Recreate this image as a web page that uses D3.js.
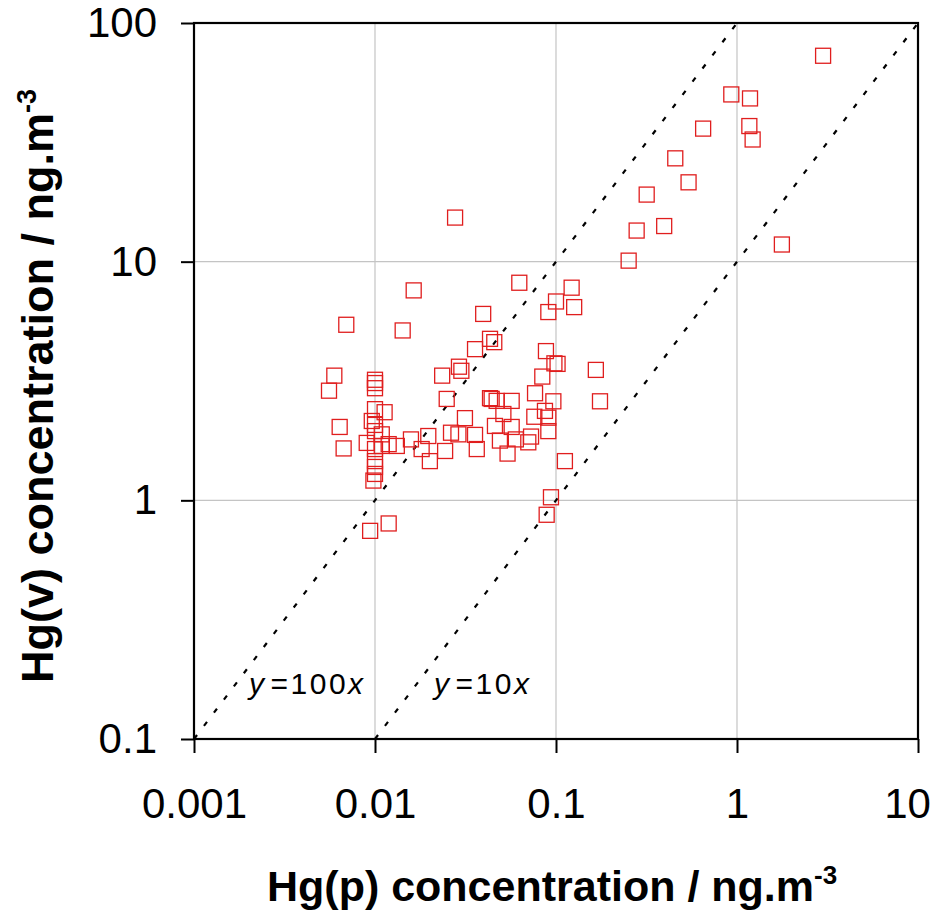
<!DOCTYPE html>
<html>
<head>
<meta charset="utf-8">
<script src="https://cdn.jsdelivr.net/npm/d3@7"></script>
<style>
  body { margin: 0; background: #fff; }
  text { font-family: "Liberation Sans", Arial, sans-serif; fill: #000; }
</style>
</head>
<body>
<div id="chart"></div>
<script>
var width = 945;
var height = 912;

// Hg(p) concentration (x) and Hg(v) concentration (y), ng.m-3
var hgP = [
  2.99, 0.93, 1.18, 1.17, 1.22, 0.65, 0.456, 0.54, 0.317, 0.279, 0.396, 0.252, 1.77, 0.0627, 0.0277,
  0.122, 0.100, 0.126, 0.0907, 0.088, 0.098, 0.102, 0.084, 0.166, 0.0766, 0.0967, 0.175, 0.0869, 0.0907,
  0.0759, 0.0728, 0.0907, 0.112, 0.0938, 0.0888,
  0.0396, 0.0432, 0.0456, 0.0357, 0.0291, 0.0300, 0.0235, 0.0249, 0.0432, 0.0441, 0.047, 0.0569,
  0.0314, 0.0512, 0.0197, 0.0263, 0.0289, 0.0357, 0.046, 0.049, 0.0569, 0.06, 0.0703, 0.0365, 0.054,
  0.0244, 0.0201, 0.0181, 0.0158, 0.0132, 0.0119, 0.0109, 0.0113,
  0.0100, 0.0100, 0.0100, 0.0100, 0.0096, 0.0100, 0.0100, 0.0090, 0.0100, 0.0100, 0.0100, 0.0100,
  0.0098, 0.0109, 0.0094, 0.0119,
  0.01636, 0.01422, 0.00694, 0.00596, 0.00557, 0.00638, 0.00671
];
var hgV = [
  72.9, 50.2, 48.3, 37.0, 32.5, 36.1, 27.1, 21.5, 19.1, 13.5, 14.1, 10.1, 11.8, 8.16, 15.3,
  7.78, 6.81, 6.45, 6.15, 4.22, 3.75, 3.73, 3.30, 3.52, 2.81, 2.60, 2.60, 2.37, 2.22,
  2.24, 1.85, 1.95, 1.46, 1.03, 0.87,
  6.04, 4.75, 4.60, 4.30, 3.63, 3.49, 3.33, 2.66, 2.68, 2.66, 2.61, 2.61,
  2.21, 2.30, 1.86, 1.92, 1.89, 1.88, 2.05, 1.78, 2.03, 1.80, 1.75, 1.64, 1.57,
  1.61, 1.46, 1.64, 1.80, 1.69, 1.72, 1.89, 2.34,
  3.20, 3.10, 2.95, 2.41, 2.15, 2.07, 1.95, 1.74, 1.64, 1.46, 1.38, 1.29,
  1.21, 1.69, 0.745, 0.80,
  7.58, 5.15, 5.44, 3.33, 2.88, 2.03, 1.65
];

var xTicks = [0.001, 0.01, 0.1, 1, 10];
var xTickLabels = ["0.001", "0.01", "0.1", "1", "10"];
var yTicks = [0.1, 1, 10, 100];
var yTickLabels = ["0.1", "1", "10", "100"];

// reference lines y = k * x
var lineFactors = [100, 10];
var lineLabels = ["100", "10"];

// plot box (note: "top" is taken by window.top)
var plotLeft = 194, plotRight = 918, plotTop = 23, plotBottom = 739;

var x = d3.scaleLog().domain([0.001, 10]).range([plotLeft, plotRight]);
var y = d3.scaleLog().domain([0.1, 100]).range([plotBottom, plotTop]);

var svg = d3.select("#chart")
  .append("svg")
  .attr("width", width)
  .attr("height", height);

// gridlines
svg.append("g")
  .selectAll("line")
  .data(xTicks.slice(1, -1))
  .enter()
  .append("line")
  .attr("x1", function(d) { return x(d); })
  .attr("x2", function(d) { return x(d); })
  .attr("y1", plotTop)
  .attr("y2", plotBottom)
  .style("stroke", "#c4c4c4")
  .style("stroke-width", 1.2);

svg.append("g")
  .selectAll("line")
  .data(yTicks.slice(1, -1))
  .enter()
  .append("line")
  .attr("x1", plotLeft)
  .attr("x2", plotRight)
  .attr("y1", function(d) { return y(d); })
  .attr("y2", function(d) { return y(d); })
  .style("stroke", "#c4c4c4")
  .style("stroke-width", 1.2);

// dotted reference lines
svg.append("g")
  .selectAll("line")
  .data(lineFactors)
  .enter()
  .append("line")
  .attr("x1", function(k) { return x(0.1 / k); })
  .attr("y1", y(0.1))
  .attr("x2", function(k) { return x(100 / k); })
  .attr("y2", y(100))
  .style("stroke", "#000")
  .style("stroke-width", 2.2)
  .style("stroke-dasharray", "5,11.5");

// labels of reference lines
var eq = svg.append("g")
  .selectAll("text")
  .data(lineFactors)
  .enter()
  .append("text")
  .attr("x", function(k, i) { return i == 0 ? 249 : 434; })
  .attr("y", 694)
  .style("font-size", "30px")
  .style("letter-spacing", "2.5px");
eq.append("tspan").style("font-style", "italic").text("y");
eq.append("tspan").attr("dx", 4).text(function(k, i) { return "=" + lineLabels[i]; });
eq.append("tspan").style("font-style", "italic").text("x");

// points
var points = hgP.map(function(d, i) { return [d, hgV[i]]; });
var s = 15;
svg.append("g")
  .selectAll("rect")
  .data(points)
  .enter()
  .append("rect")
  .attr("x", function(d) { return x(d[0]) - s / 2; })
  .attr("y", function(d) { return y(d[1]) - s / 2; })
  .attr("width", s)
  .attr("height", s)
  .style("fill", "none")
  .style("stroke", "#e01e1e")
  .style("stroke-width", 1.3);

// axes
var xAxis = d3.axisBottom(x)
  .tickValues(xTicks)
  .tickSize(14)
  .tickPadding(35)
  .tickFormat(function(d, i) { return xTickLabels[i]; });

var gx = svg.append("g")
  .attr("transform", "translate(0," + plotBottom + ")")
  .call(xAxis);

var yAxis = d3.axisLeft(y)
  .tickValues(yTicks)
  .tickSize(13)
  .tickPadding(24)
  .tickFormat(function(d, i) { return yTickLabels[i]; });

var gy = svg.append("g")
  .attr("transform", "translate(" + plotLeft + ",0)")
  .call(yAxis);

[gx, gy].forEach(function(g) {
  g.select(".domain").remove();
  g.selectAll(".tick line").style("stroke", "#000").style("stroke-width", 2);
  g.selectAll(".tick text")
    .style("font-family", "'Liberation Sans', Arial, sans-serif")
    .style("font-size", "42px")
    .style("fill", "#000");
});

// last x label is pulled in so it stays inside the picture
gx.selectAll(".tick text")
  .filter(function(d) { return d == 10; })
  .attr("dx", -11);

// frame
svg.append("rect")
  .attr("x", plotLeft)
  .attr("y", plotTop)
  .attr("width", plotRight - plotLeft)
  .attr("height", plotBottom - plotTop)
  .style("fill", "none")
  .style("stroke", "#000")
  .style("stroke-width", 2.2);

// axis titles
var xt = svg.append("text")
  .attr("x", 267)
  .attr("y", 901)
  .style("font-size", "43px")
  .style("font-weight", "bold")
  .text("Hg(p) concentration / ng.m");
xt.append("tspan")
  .attr("dy", -17)
  .style("font-size", "26px")
  .text("-3");

var yt = svg.append("text")
  .attr("transform", "rotate(-90)")
  .attr("x", -683)
  .attr("y", 53)
  .style("font-size", "45px")
  .style("font-weight", "bold")
  .text("Hg(v) concentration / ng.m");
yt.append("tspan")
  .attr("dy", -17)
  .style("font-size", "27px")
  .text("-3");
</script>
</body>
</html>
